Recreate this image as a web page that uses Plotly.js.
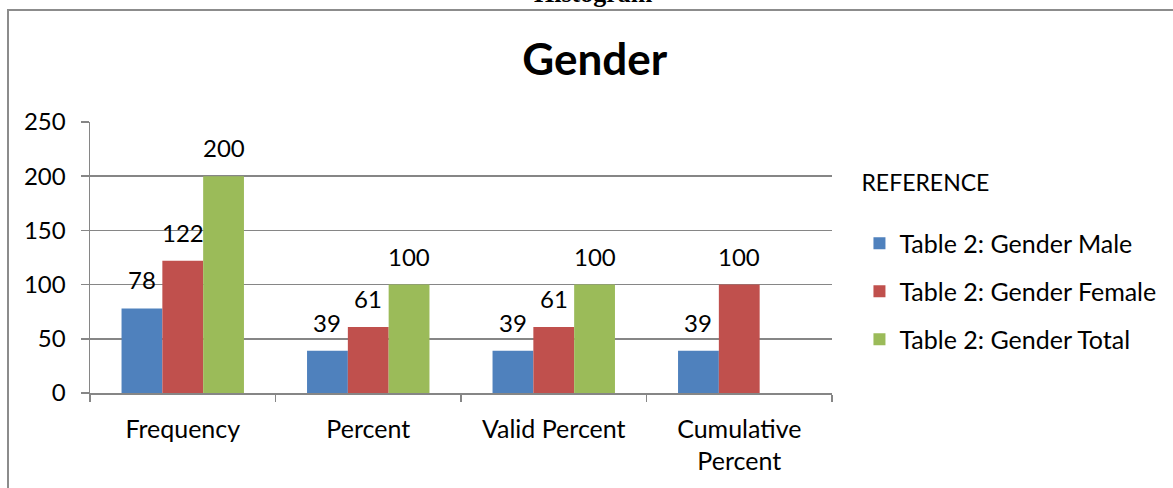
<!DOCTYPE html>
<html>
<head>
<meta charset="utf-8">
<script src="https://cdn.plot.ly/plotly-3.0.1.min.js"></script>
<style>
  html, body { margin: 0; padding: 0; background: #fff; overflow: hidden; }
  #wrap { position: relative; width: 1173px; height: 488px; overflow: hidden; }
  #frame { position: absolute; left: 7px; top: 9px; width: 1300px; height: 600px;
           border: 2px solid #8c8c8c; box-sizing: border-box; }
  #chart { position: absolute; left: 0; top: 0; width: 1173px; height: 488px; }
</style>
</head>
<body>
<div id="wrap">
  <div id="frame"></div>
  <div id="chart"></div>
</div>
<script>
// ---- data ----
const categories = ["Frequency", "Percent", "Valid Percent", "Cumulative<br>Percent"];
const seriesNames = ["Table 2: Gender Male", "Table 2: Gender Female", "Table 2: Gender Total"];
const maleValues = [78, 39, 39, 39];
const femaleValues = [122, 61, 61, 100];
const totalValues = [200, 100, 100, null];
const yTickValues = [0, 50, 100, 150, 200, 250];

const colors = ["#4F81BD", "#C0504D", "#9BBB59"];
const allValues = [maleValues, femaleValues, totalValues];
const FONT = "Lato, 'Open Sans', sans-serif";
const barPx = 41; // width of one bar in pixels, used to offset the value labels

const traces = allValues.map((vals, i) => ({
  type: "bar",
  name: seriesNames[i],
  x: categories,
  y: vals,
  marker: { color: colors[i], line: { width: 0 } },
  legendgroup: "g" + i,
  hoverinfo: "skip"
}));

const annotations = [];
allValues.forEach((vals, i) => {
  vals.forEach((v, j) => {
    if (v === null) return;
    annotations.push({
      x: categories[j], y: v, xref: "x", yref: "y",
      text: String(v), showarrow: false,
      xshift: (i - 1) * barPx, yanchor: "bottom", yshift: 12,
      font: { family: FONT, size: 24, color: "#000" }
    });
  });
});
annotations.push({
  text: "<b>Histogram</b>", showarrow: false,
  xref: "paper", yref: "paper", x: 0.679, y: 1.415, xanchor: "center", yanchor: "bottom",
  font: { family: "'Liberation Serif', 'Times New Roman', serif", size: 26, color: "#000" }
});

const layout = {
  width: 1173, height: 488,
  margin: { l: 90, r: 339, t: 122, b: 95 },
  paper_bgcolor: "rgba(0,0,0,0)",
  plot_bgcolor: "rgba(0,0,0,0)",
  barmode: "group",
  bargap: 0.34,
  bargroupgap: 0,
  showlegend: true,
  title: {
    text: "<b>Gender</b>",
    font: { family: FONT, size: 44, color: "#000" },
    x: 0.507, xref: "container", xanchor: "center",
    y: 0.878, yref: "container", yanchor: "middle"
  },
  xaxis: {
    type: "category",
    showgrid: false,
    showline: true, linecolor: "#868686", linewidth: 1.5,
    ticks: "outside", tickson: "boundaries", ticklen: 7, tickcolor: "#868686", tickwidth: 1.5,
    ticklabelstandoff: 13,
    tickfont: { family: FONT, size: 25, color: "#000" },
    fixedrange: true
  },
  yaxis: {
    range: [0, 250],
    tickvals: yTickValues,
    ticktext: yTickValues.map(String),
    showgrid: true, gridcolor: "#868686", gridwidth: 1.5,
    showline: true, linecolor: "#868686", linewidth: 1.5,
    ticks: "outside", ticklen: 8, tickcolor: "#868686", tickwidth: 1.5,
    ticklabelstandoff: 10,
    zeroline: false,
    tickfont: { family: FONT, size: 24, color: "#000" },
    fixedrange: true
  },
  legend: {
    x: 1.037, xanchor: "left", y: 0.857, yanchor: "top",
    title: { text: "REFERENCE<br> ", font: { family: FONT, size: 23, color: "#000" } },
    font: { family: FONT, size: 25, color: "#000" },
    traceorder: "grouped",
    tracegroupgap: 12.5,
    bgcolor: "rgba(0,0,0,0)"
  },
  annotations: annotations
};

Plotly.newPlot("chart", traces, layout, { displayModeBar: false, staticPlot: true });
</script>
</body>
</html>
